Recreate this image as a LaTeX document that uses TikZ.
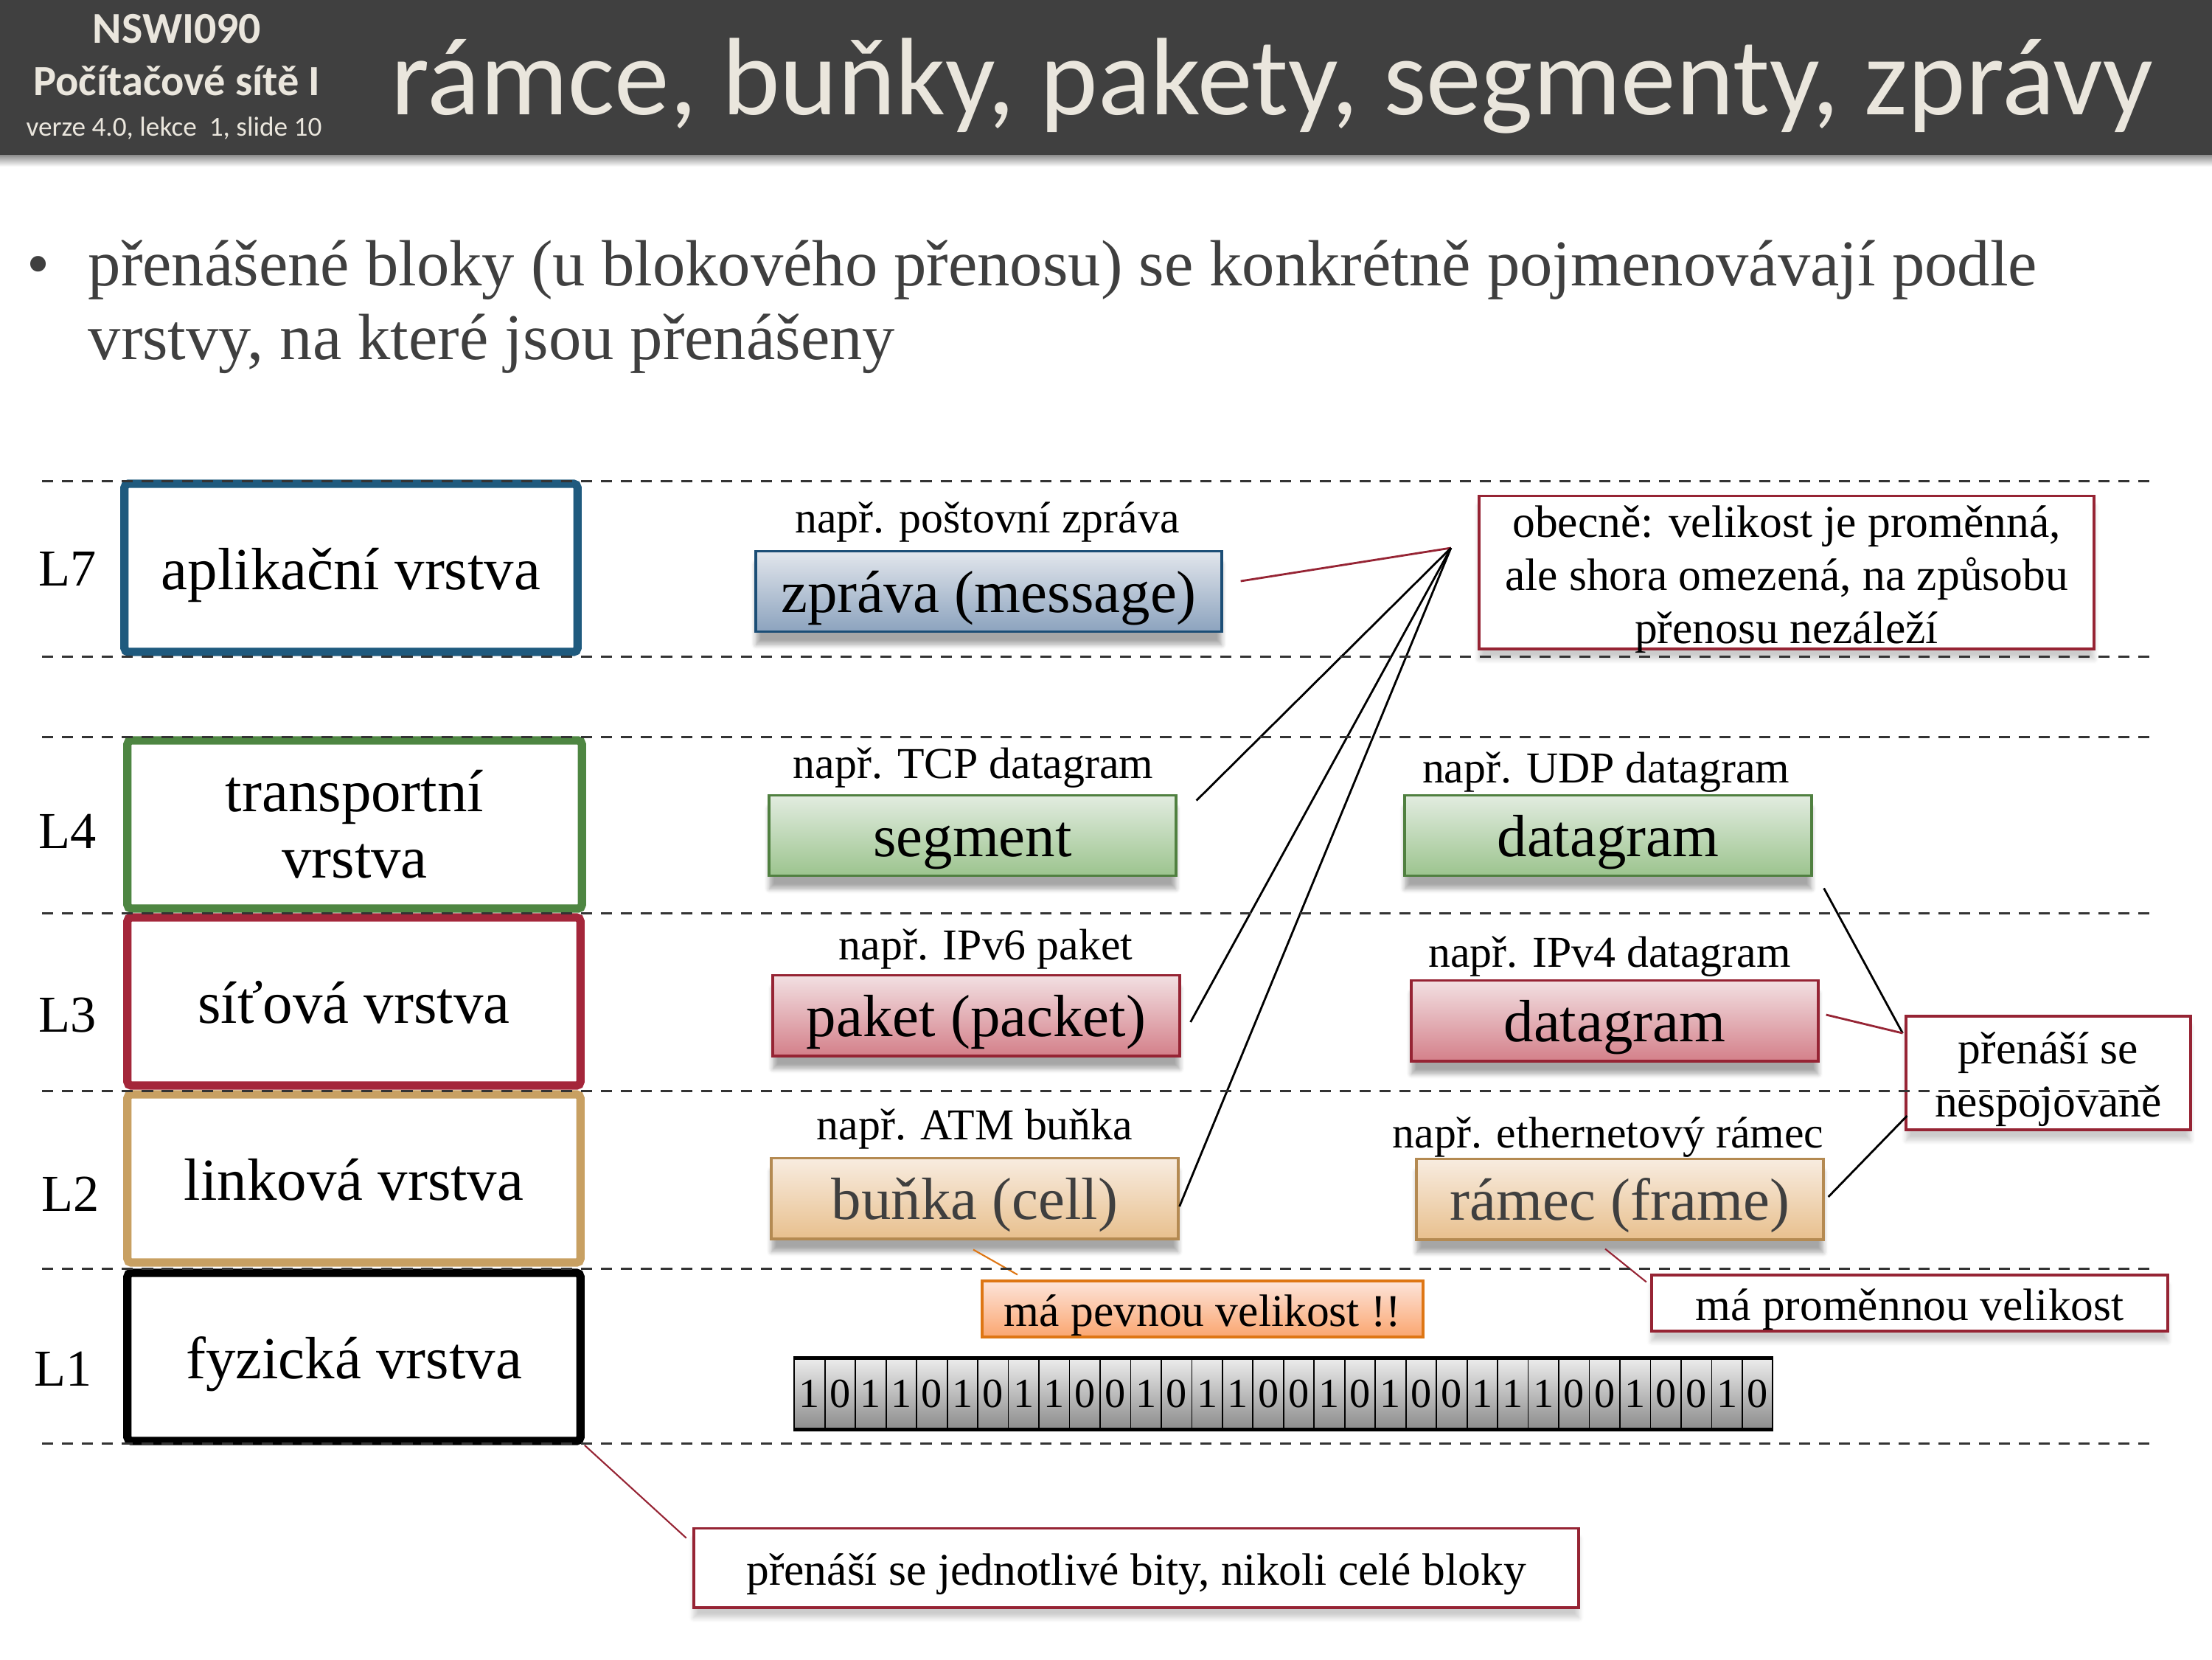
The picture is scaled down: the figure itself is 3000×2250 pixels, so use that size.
\documentclass[tikz,border=0pt]{standalone}
\usepackage{fontspec}
\setmainfont{Liberation Serif}
\newfontfamily\hdrfont{Carlito}
\usetikzlibrary{calc,backgrounds,shadows.blur}

\definecolor{hdrgray}{RGB}{64,64,64}
\definecolor{hdrtext}{RGB}{234,230,221}
\definecolor{bodygray}{RGB}{63,63,63}
\definecolor{dashgray}{RGB}{51,51,51}
\definecolor{appblue}{RGB}{31,90,126}
\definecolor{trgreen}{RGB}{78,134,66}
\definecolor{netred}{RGB}{164,38,58}
\definecolor{linktan}{RGB}{200,160,98}
\definecolor{notered}{RGB}{150,36,52}
\definecolor{msgedge}{RGB}{28,78,118}
\definecolor{segedge}{RGB}{80,128,64}
\definecolor{frmedge}{RGB}{180,138,82}
\definecolor{fixorange}{RGB}{222,118,20}

\begin{document}
\begin{tikzpicture}[
  x=0.01cm, y=-0.01cm,
  layer/.style={draw, line width=3.2pt, rounded corners=1.5pt, fill=white,
    minimum width=6.14cm, minimum height=2.28cm, inner sep=0pt,
    align=center, font=\fontsize{23}{25.6}\selectfont},
  oneline/.style={text height=22.1pt, text depth=5.1pt},
  tag/.style={font=\fontsize{20}{24}\selectfont},
  eg/.style={font=\fontsize{17}{20}\selectfont},
  intro/.style={anchor=base west, inner sep=0pt, text=bodygray, font=\fontsize{25.2}{30}\selectfont},
  pdu/.style={draw, line width=1.1pt, minimum width=5.51cm, minimum height=1.09cm,
    inner sep=0pt, text height=21.4pt, text depth=5.3pt, font=\fontsize{23}{27}\selectfont,
    blur shadow={shadow xshift=0pt, shadow yshift=-5pt, shadow blur steps=6, shadow opacity=35}},
  msgbox/.style={pdu, draw=msgedge, top color={rgb,255:red,226;green,230;blue,236},
    bottom color={rgb,255:red,140;green,163;blue,190}, minimum width=6.31cm},
  segbox/.style={pdu, draw=segedge, top color={rgb,255:red,226;green,236;blue,224},
    bottom color={rgb,255:red,156;green,196;blue,142}},
  pktbox/.style={pdu, draw=notered, top color={rgb,255:red,242;green,224;blue,226},
    bottom color={rgb,255:red,212;green,128;blue,138}},
  frmbox/.style={pdu, draw=frmedge, text=bodygray, top color={rgb,255:red,248;green,236;blue,224},
    bottom color={rgb,255:red,232;green,192;blue,142}},
  note/.style={draw=notered, line width=1.1pt, fill=white, inner sep=0pt, align=center,
    text height=17.5pt, text depth=3.9pt, font=\fontsize{17.5}{20.5}\selectfont,
    blur shadow={shadow xshift=0pt, shadow yshift=-4pt, shadow blur steps=6, shadow opacity=20}},
  bit/.style={draw, line width=0.5pt, minimum width=0.4147cm, minimum height=0.95cm, inner sep=0pt,
    top color={rgb,255:red,236;green,236;blue,236}, bottom color={rgb,255:red,140;green,140;blue,140},
    font=\fontsize{16}{18}\selectfont},
  layerline/.style={dashgray, line width=0.85pt, dash pattern=on 4.3pt off 3.4pt},
  link/.style={line width=0.8pt}
]
\useasboundingbox (0,0) rectangle (3000,2250);

% header
\fill[hdrgray] (0,0) rectangle (3000,210);
\shade[top color=black!45, bottom color=white] (0,210) rectangle (3000,226);
\node[text=hdrtext, font=\hdrfont\bfseries\fontsize{17}{20}\selectfont] (course) at (240,39) {NSWI090};
\node[text=hdrtext, font=\hdrfont\bfseries\fontsize{16.6}{20}\selectfont] (cname) at (240,110) {Počítačové sítě I};
\node[text=hdrtext, font=\hdrfont\fontsize{10.6}{12}\selectfont] (ver) at (236,174) {verze 4.0, lekce \ 1, slide 10};
\node[anchor=base, text=hdrtext, font=\hdrfont\fontsize{42.5}{48}\selectfont] (title) at (1725,155)
  {rámce, buňky, pakety, segmenty, zprávy};

% bullet
\node[intro] (dot) at (36,387) {•};
\node[intro] (intro1) at (119,387) {přenášené bloky (u blokového přenosu) se konkrétně pojmenovávají podle};
\node[intro] (intro2) at (119,487) {vrstvy, na které jsou přenášeny};

% layers
\node[layer, oneline, draw=appblue] (app) at (476,770) {aplikační vrstva};
\node[layer, draw=trgreen, minimum width=6.16cm] (trans) at (481,1118) {transportní\\vrstva};
\node[layer, oneline, draw=netred] (net) at (480,1358) {síťová vrstva};
\node[layer, oneline, draw=linktan] (link) at (480,1598) {linková vrstva};
\node[layer, oneline, draw=black] (phys) at (480,1840) {fyzická vrstva};
\node[tag] (l7) at (92,771) {L7};
\node[tag] (l4) at (92,1127) {L4};
\node[tag] (l3) at (92,1377) {L3};
\node[tag] (l2) at (96,1619) {L2};
\node[tag] (l1) at (86,1856) {L1};

% blocks
\node[eg] (egmsg) at (1339,708) {např. poštovní zpráva};
\node[msgbox] (msg) at (1341,802) {zpráva (message)};
\node[eg] (egtcp) at (1320,1041) {např. TCP datagram};
\node[segbox] (seg) at (1319,1133) {segment};
\node[eg] (egudp) at (2178,1047) {např. UDP datagram};
\node[segbox] (udp) at (2181,1133) {datagram};
\node[eg] (egv6) at (1337,1287) {např. IPv6 paket};
\node[pktbox] (pkt) at (1324,1377) {paket (packet)};
\node[eg] (egv4) at (2183,1297) {např. IPv4 datagram};
\node[pktbox] (ip4) at (2190,1384) {datagram};
\node[eg] (egatm) at (1322,1531) {např. ATM buňka};
\node[frmbox] (cell) at (1322,1625) {buňka (cell)};
\node[eg] (egeth) at (2181,1542) {např. ethernetový rámec};
\node[frmbox] (frame) at (2197,1626) {rámec (frame)};

% bits
\foreach \b [count=\i from 0] in {1,0,1,1,0,1,0,1,1,0,0,1,0,1,1,0,0,1,0,1,0,0,1,1,1,0,0,1,0,0,1,0}
  \node[bit] (b\i) at ({1098+41.47*\i},1890) {\b};
\draw[line width=1.4pt] (b0.north west) -- (b31.north east);
\draw[line width=1.4pt] (b0.south west) -- (b31.south east);
\begin{scope}[on background layer]
  \path[blur shadow={shadow xshift=0pt, shadow yshift=-6pt, shadow blur steps=6, shadow opacity=35}]
    (b0.north west) rectangle (b31.south east);
\end{scope}

% notes
\node[note, text height=55pt, text depth=0pt, minimum width=8.34cm, minimum height=2.07cm] (gen) at (2423,776)
  {obecně: velikost je proměnná,\\ale shora omezená, na způsobu\\přenosu nezáleží};
\node[note, text height=38pt, minimum width=3.85cm, minimum height=1.54cm] (conn) at (2778,1455)
  {přenáší se\\nespojovaně};
\node[note, minimum width=7.0cm, minimum height=0.72cm] (varsz) at (2590,1767) {má proměnnou velikost};
\node[note, draw=fixorange, top color={rgb,255:red,253;green,228;blue,218},
  bottom color={rgb,255:red,250;green,166;blue,112}, blur shadow={shadow opacity=0},
  minimum width=5.98cm, minimum height=0.71cm] (fixsz) at (1631,1775) {má pevnou velikost !!};
\node[note, minimum width=12.0cm, minimum height=1.07cm] (bitsnote) at (1541,2126)
  {přenáší se jednotlivé bity, nikoli celé bloky};

% connectors
\coordinate (apex) at ([shift={(-36,-33)}]gen.west);
\draw[link, notered] (apex) -- ([shift={(24,-14)}]msg.east);
\draw[link] (apex) -- ([shift={(26,9)}]seg.north east);
\draw[link] (apex) -- ([shift={(13,9)}]pkt.east);
\draw[link] (apex) -- ([shift={(0,11)}]cell.east);
\coordinate (cA) at ([shift={(-3,25)}]conn.north west);
\coordinate (cB) at ([shift={(3,-21)}]conn.south west);
\draw[link] (cA) -- ([shift={(15,15)}]udp.south east);
\draw[link, notered] (cA) -- ([shift={(9,-8)}]ip4.east);
\draw[link] (cB) -- ([shift={(5,-3)}]frame.east);
\draw[link, notered, line width=0.6pt] ([shift={(-20,11)}]frame.south) -- ([shift={(-5,11)}]varsz.north west);
\draw[link, fixorange, line width=0.6pt] ([shift={(-2,13)}]cell.south) -- ([shift={(50,-7)}]fixsz.north west);
\draw[link, notered, line width=0.6pt] (phys.south east) -- ([shift={(-8,15)}]bitsnote.north west);

% layer borders
\foreach \y in {652,890,999,1238,1479,1720,1957}
  \draw[layerline] (57,\y) -- (2923,\y);
\end{tikzpicture}
\end{document}
